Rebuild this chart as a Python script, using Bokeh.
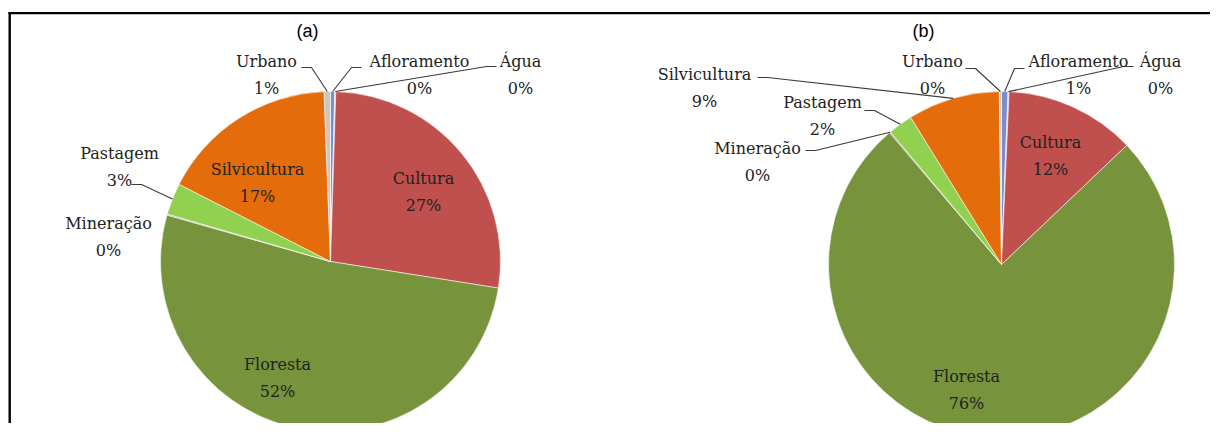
import math
from bokeh.plotting import figure
from bokeh.models import Range1d, ColumnDataSource
from bokeh.embed import file_html
from bokeh.resources import INLINE
from bokeh.core.properties import value

# ---------------- data ----------------
categories = ["Afloramento", "Água", "Cultura", "Floresta", "Mineração",
              "Pastagem", "Silvicultura", "Urbano"]
values_a = [0.4, 0.1, 27.0, 51.9, 0.1, 3.0, 16.9, 0.6]
values_b = [0.6, 0.1, 12.2, 75.9, 0.1, 2.3, 8.6, 0.2]
panel_titles = ["(a)", "(b)"]

# ---------------- styles ----------------
colors = {
    "Afloramento": "#7F8CCB",
    "Água": "#B7CDE8",
    "Cultura": "#C0504D",
    "Floresta": "#77933C",
    "Mineração": "#8C8C8C",
    "Pastagem": "#92D050",
    "Silvicultura": "#E46C0A",
    "Urbano": "#CFC6C2",
}

W, H = 1210, 423
REF_H = 439          # layout below is in reference-picture pixels (y from top)


def Y(y):
    return REF_H - y


# label layout: category -> (center x, first-line y, leader anchor or None, side)
pies = [
    dict(cx=330, cy=261, r=170, title=(307, 30), values=values_a, labels={
        "Urbano": (266, 61, (301, 67), +1),
        "Afloramento": (419, 61, (361, 67), -1),
        "Água": (520, 61, (496, 66), -1),
        "Pastagem": (119, 153, (131, 184), +1),
        "Mineração": (108, 223, None, 0),
        "Silvicultura": (257, 169, None, 0),
        "Cultura": (423, 178, None, 0),
        "Floresta": (277, 364, None, 0),
    }),
    dict(cx=1001, cy=264, r=173, title=(923, 30), values=values_b, labels={
        "Urbano": (932, 61, (965, 68), +1),
        "Afloramento": (1078, 61, (1024, 68), -1),
        "Água": (1160, 61, (1133, 66), -1),
        "Silvicultura": (704, 74, (757, 77), +1),
        "Pastagem": (822, 102, (864, 110), +1),
        "Mineração": (757, 148, (805, 150), +1),
        "Cultura": (1050, 142, None, 0),
        "Floresta": (966, 376, None, 0),
    }),
]
LINE_GAP = 27

p = figure(width=W, height=H, output_backend="svg", toolbar_location=None,
           x_range=Range1d(0, W), y_range=Range1d(Y(H), Y(0)),
           min_border=0, background_fill_color="white",
           border_fill_color="white", outline_line_color=None)
p.axis.visible = False
p.grid.visible = False

# frame (top and left rules)
p.segment(x0=[8, 9.2], y0=[Y(12.6), Y(11.5)], x1=[W, 9.2], y1=[Y(12.6), Y(H)],
          line_color="black", line_width=2.4)

for k, pie in enumerate(pies):
    vals = pie["values"]
    total = float(sum(vals))
    cum = 0.0
    sa, ea, fc = [], [], []
    mids = {}
    for cat, v in zip(categories, vals):
        f0 = cum / total
        f1 = (cum + v) / total
        cum += v
        sa.append(math.pi / 2 - 2 * math.pi * f1)
        ea.append(math.pi / 2 - 2 * math.pi * f0)
        fc.append(colors[cat])
        mids[cat] = 2 * math.pi * (f0 + f1) / 2
    src = ColumnDataSource(dict(x=[pie["cx"]] * len(vals), y=[Y(pie["cy"])] * len(vals),
                                sa=sa, ea=ea, fc=fc))
    p.wedge(x="x", y="y", radius=pie["r"], start_angle="sa", end_angle="ea",
            direction="anticlock", fill_color="fc", line_color="white",
            line_width=0.8, line_alpha=0.7, source=src)

    # labels
    tx, ty, tt = [], [], []
    lxs, lys = [], []
    for cat, v in zip(categories, vals):
        x, y1, anchor, side = pie["labels"][cat]
        pct = "%d%%" % round(100 * v / total)
        tx += [x, x]
        ty += [Y(y1), Y(y1 + LINE_GAP)]
        tt += [cat, pct]
        if anchor is not None:
            th = mids[cat]
            ex = pie["cx"] + pie["r"] * math.sin(th)
            ey = pie["cy"] - pie["r"] * math.cos(th)
            ax, ay = anchor
            lxs.append([ax, ax + side * 10, ex])
            lys.append([Y(ay), Y(ay), Y(ey)])
    p.multi_line(xs=lxs, ys=lys, line_color="#3a3a3a", line_width=1.1)
    p.text(x=tx, y=ty, text=tt, text_font=value("DejaVu Serif"),
           text_font_size="16px", text_color="#222222",
           text_align="center", text_baseline="middle")

    # panel title
    p.text(x=[pie["title"][0]], y=[Y(pie["title"][1])], text=[panel_titles[k]],
           text_font=value("Liberation Sans"), text_font_size="18px",
           text_color="black", text_align="center", text_baseline="middle")

open("out.html", "w").write(file_html(p, INLINE))
